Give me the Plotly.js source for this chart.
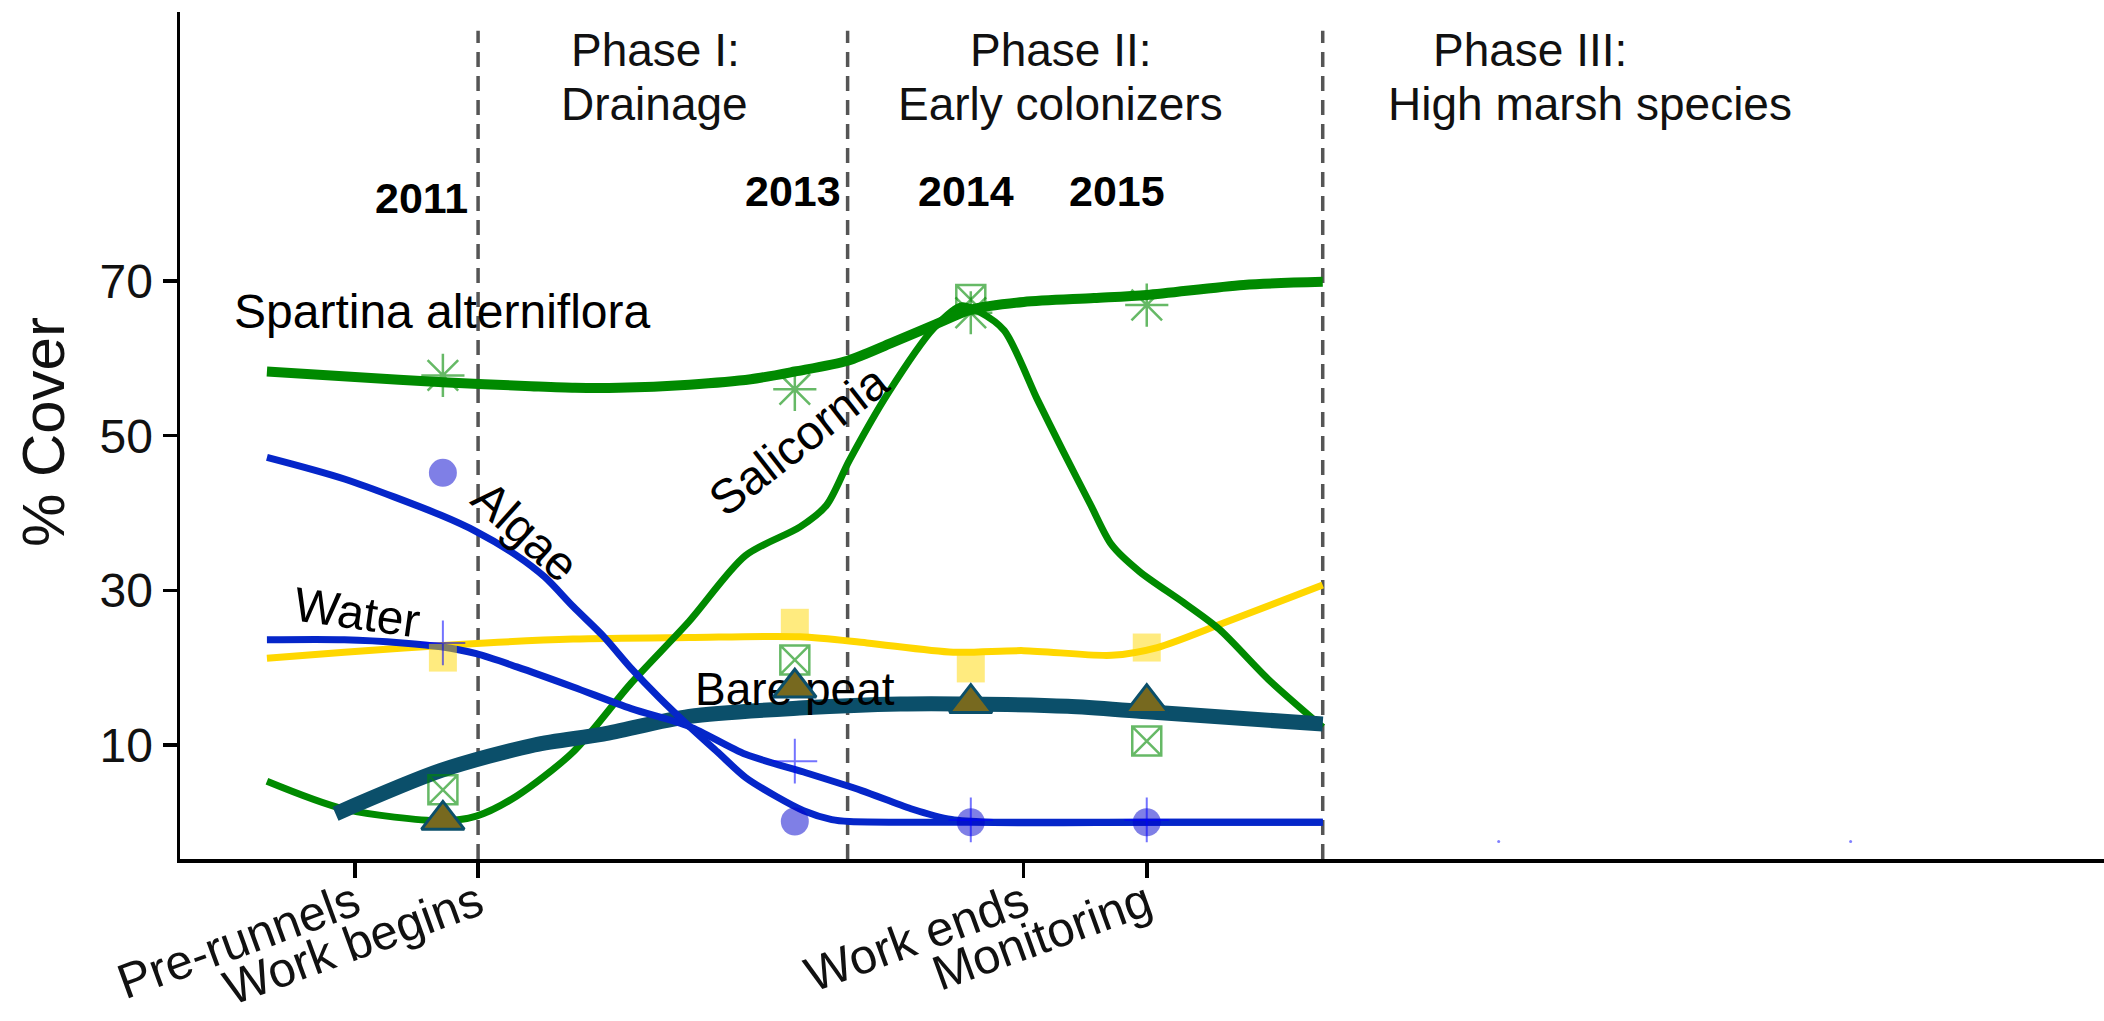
<!DOCTYPE html>
<html>
<head>
<meta charset="utf-8">
<script src="https://cdn.plot.ly/plotly-3.0.1.min.js"></script>
<style>
  html, body { margin: 0; padding: 0; background: #ffffff; }
  #chart { width: 2104px; height: 1021px; }
</style>
</head>
<body>
<div id="chart"></div>
<script>
// ---------------- DATA ----------------
// Survey years with observed % cover
const surveyYears = [2011, 2013, 2014, 2015];
const spartinaObs   = [57.8, 56.0, 65.9, 66.9];
const salicorniaObs = [4.2, 21.0, 67.6, 10.5];
const algaeObs      = [45.2, 0.1, 0.0, 0.0];
const waterObs      = [23.2, 7.9, 0.3, 0.3];
const barePeatObs   = [0.3, 17.4, 15.4, 15.4];
const otherObs      = [21.3, 25.8, 19.9, 22.6];

// Later (Phase III) placeholder observations
const laterYears = [2017, 2019];
const laterObs   = [-2.5, -2.5];

// Smoothed trend curves (years, % cover)
const spartinaFitX = [2010.0, 2010.5, 2011.0, 2011.5, 2011.75, 2012.0, 2012.4, 2012.75, 2013.0, 2013.3, 2013.55, 2013.8, 2014.0, 2014.3, 2014.7, 2015.0, 2015.55, 2016.0];
const spartinaFitY = [58.3, 57.6, 56.9, 56.4, 56.2, 56.2, 56.6, 57.3, 58.3, 59.7, 62.0, 64.4, 66.3, 67.3, 67.8, 68.2, 69.5, 69.9];

const salicorniaFitX = [2010.0, 2010.44, 2010.99, 2011.19, 2011.42, 2011.74, 2012.07, 2012.4, 2012.72, 2013.03, 2013.18, 2013.31, 2013.53, 2013.79, 2013.95, 2014.05, 2014.19, 2014.38, 2014.52, 2014.68, 2014.8, 2014.96, 2015.21, 2015.41, 2015.69, 2016.0];
const salicorniaFitY = [5.3, 1.7, 0.2, 0.8, 3.4, 9.1, 18.0, 26.0, 34.5, 38.2, 41.0, 46.8, 55.5, 63.9, 66.8, 66.0, 63.6, 54.6, 48.2, 41.1, 35.9, 32.4, 28.4, 25.0, 18.5, 12.3];

const algaeFitX = [2010.0, 2010.44, 2010.99, 2011.19, 2011.42, 2011.58, 2011.74, 2011.91, 2012.07, 2012.23, 2012.4, 2012.56, 2012.72, 2012.89, 2013.05, 2013.21, 2013.31, 2014.0, 2015.0, 2016.0];
const algaeFitY = [47.2, 44.4, 39.7, 37.6, 34.5, 31.7, 27.9, 24.1, 19.9, 16.1, 12.4, 9.1, 5.8, 3.4, 1.5, 0.35, 0.1, 0.0, 0.0, 0.0];

const waterFitX = [2010.0, 2010.44, 2010.77, 2010.99, 2011.19, 2011.42, 2011.74, 2012.07, 2012.4, 2012.72, 2013.05, 2013.38, 2013.66, 2013.89, 2014.1, 2015.0, 2016.0];
const waterFitY = [23.6, 23.6, 23.2, 22.7, 21.8, 20.1, 17.5, 14.7, 12.4, 8.8, 6.5, 4.1, 1.75, 0.35, 0.0, 0.0, 0.0];

const barePeatFitX = [2010.39, 2010.99, 2011.52, 2011.91, 2012.4, 2013.05, 2013.6, 2014.0, 2014.55, 2015.0, 2016.0];
const barePeatFitY = [1.1, 6.7, 10.0, 11.4, 13.7, 14.8, 15.3, 15.3, 15.0, 14.3, 12.7];

const otherFitX = [2010.0, 2010.44, 2011.09, 2011.74, 2012.4, 2013.03, 2013.41, 2013.9, 2014.3, 2014.8, 2015.06, 2015.44, 2016.0];
const otherFitY = [21.2, 22.0, 23.0, 23.7, 23.9, 24.0, 23.2, 22.0, 22.2, 21.6, 22.6, 25.8, 30.7];

// Axis ticks
const xTickVals  = [2010.5, 2011.2, 2014.3, 2015.0];
const xTickText  = ['Pre-runnels', 'Work begins', 'Work ends', 'Monitoring'];
const yTickVals  = [10, 30, 50, 70];

// Phase boundaries and labels
const phaseBounds   = [2011.2, 2013.3, 2016.0];
const phaseTitles   = ['Phase I:', 'Phase II:', 'Phase III:'];
const phaseSubtitle = ['Drainage', 'Early colonizers', 'High marsh species'];
const yearLabels    = ['2011', '2013', '2014', '2015'];
const seriesNames   = ['Spartina alterniflora', 'Algae', 'Water', 'Salicornia'];
const barePeatName  = ['Bare peat'];

// ---------------- PLACEMENT / STYLE ----------------
const FONT = 'Liberation Sans, Arial, Helvetica, sans-serif';
const phaseTitlePos = [[2012.21, 99.9], [2014.51, 99.9], [2017.18, 99.9]];
const phaseSubPos   = [[2012.20, 92.9], [2014.51, 92.9], [2017.52, 92.9]];
const yearLabelPos  = [[2010.88, 80.8], [2012.99, 81.7], [2013.97, 81.7], [2014.83, 81.7]];
const seriesLabelPos = [[2011.0, 66.1, 0], [2011.47, 37.6, 42], [2010.51, 27.1, 8], [2013.02, 49.4, -38]];
const barePeatLabelPos = [[2013.0], [16.6]];

const GREEN = '#008a00';
const BLUE = '#0526c9';
const GOLD = '#ffd700';
const TEAL = '#0b4f6a';

function fit(x, y, color, width) {
  return { type: 'scatter', mode: 'lines', x: x, y: y, hoverinfo: 'skip',
    line: { color: color, width: width, shape: 'spline', smoothing: 0.8 } };
}
function pts(x, y, marker) {
  return { type: 'scatter', mode: 'markers', x: x, y: y, hoverinfo: 'skip', marker: marker };
}

const traces = [
  fit(otherFitX, otherFitY, GOLD, 7),
  fit(salicorniaFitX, salicorniaFitY, GREEN, 7),
  fit(spartinaFitX, spartinaFitY, GREEN, 10),
  fit(barePeatFitX, barePeatFitY, TEAL, 15),
  fit(waterFitX, waterFitY, BLUE, 7),
  fit(algaeFitX, algaeFitY, BLUE, 7),
  pts(surveyYears, otherObs, { symbol: 'square', size: 28, color: 'rgba(255,215,0,0.5)', line: { width: 0 } }),
  pts(surveyYears, spartinaObs, { symbol: 'asterisk-open', size: 36, color: 'rgba(0,139,0,0.6)', line: { color: 'rgba(0,139,0,0.6)', width: 2.5 } }),
  pts(surveyYears, salicorniaObs, { symbol: 'square-x-open', size: 29, color: 'rgba(0,139,0,0.6)', line: { color: 'rgba(0,139,0,0.6)', width: 2.5 } }),
  pts(surveyYears, algaeObs, { symbol: 'circle', size: 28, color: 'rgba(0,0,205,0.5)', line: { width: 0 } }),
  pts(surveyYears, waterObs, { symbol: 'cross-thin-open', size: 32, color: 'rgba(0,0,255,0.55)', line: { color: 'rgba(0,0,255,0.55)', width: 2 } }),
  // Bare peat label drawn as text beneath the triangle markers
  { type: 'scatter', mode: 'text', x: barePeatLabelPos[0], y: barePeatLabelPos[1], text: barePeatName,
    textposition: 'middle center', hoverinfo: 'skip',
    textfont: { family: FONT, size: 46, color: '#000' } },
  pts(surveyYears, barePeatObs, { symbol: 'triangle-up', size: 37, color: '#77691f', line: { color: TEAL, width: 3 } }),
  pts(laterYears, laterObs, { symbol: 'circle', size: 3, color: 'rgba(0,0,255,0.5)', line: { width: 0 } })
];

const shapes = phaseBounds.map(b => ({
  type: 'line', xref: 'x', yref: 'paper', x0: b, x1: b, y0: 0, y1: 0.978,
  line: { color: '#555555', width: 3.5, dash: '15px,9px' }, layer: 'below'
}));

const annotations = [];
phaseTitles.forEach((t, i) => annotations.push({ text: t, x: phaseTitlePos[i][0], y: phaseTitlePos[i][1],
  xref: 'x', yref: 'y', showarrow: false, xanchor: 'center', yanchor: 'middle',
  font: { family: FONT, size: 46, color: '#111' } }));
phaseSubtitle.forEach((t, i) => annotations.push({ text: t, x: phaseSubPos[i][0], y: phaseSubPos[i][1],
  xref: 'x', yref: 'y', showarrow: false, xanchor: 'center', yanchor: 'middle',
  font: { family: FONT, size: 46, color: '#111' } }));
yearLabels.forEach((t, i) => annotations.push({ text: '<b>' + t + '</b>', x: yearLabelPos[i][0], y: yearLabelPos[i][1],
  xref: 'x', yref: 'y', showarrow: false, xanchor: 'center', yanchor: 'middle',
  font: { family: FONT, size: 43, color: '#000' } }));
seriesNames.forEach((t, i) => annotations.push({ text: t, x: seriesLabelPos[i][0], y: seriesLabelPos[i][1],
  textangle: seriesLabelPos[i][2],
  xref: 'x', yref: 'y', showarrow: false, xanchor: 'center', yanchor: 'middle',
  font: { family: FONT, size: 48, color: '#000' } }));
annotations.push({ text: '% Cover', xref: 'paper', yref: 'paper', x: 0, y: 0.504, xshift: -137,
  textangle: -90, showarrow: false, xanchor: 'center', yanchor: 'middle',
  font: { family: FONT, size: 60, color: '#111' } });

const layout = {
  width: 2104, height: 1021,
  margin: { l: 180, r: 0, t: 12, b: 162, pad: 0 },
  paper_bgcolor: '#ffffff', plot_bgcolor: '#ffffff',
  showlegend: false,
  xaxis: {
    range: [2009.506, 2020.44], showgrid: false, zeroline: false,
    showline: true, linecolor: '#000', linewidth: 3.5,
    ticks: 'outside', ticklen: 15, tickwidth: 3.5, tickcolor: '#000',
    tickmode: 'array', tickvals: xTickVals, ticktext: xTickText, tickangle: -20,
    ticklabelstandoff: -22,
    tickfont: { family: FONT, size: 49, color: '#111' }
  },
  yaxis: {
    range: [-4.75, 104.8], showgrid: false, zeroline: false,
    showline: true, linecolor: '#000', linewidth: 3.5,
    ticks: 'outside', ticklen: 14, tickwidth: 3.5, tickcolor: '#000',
    tickmode: 'array', tickvals: yTickVals,
    tickfont: { family: FONT, size: 48, color: '#111' }
  },
  shapes: shapes,
  annotations: annotations
};

Plotly.newPlot('chart', traces, layout, { displayModeBar: false, staticPlot: true });
</script>
</body>
</html>
